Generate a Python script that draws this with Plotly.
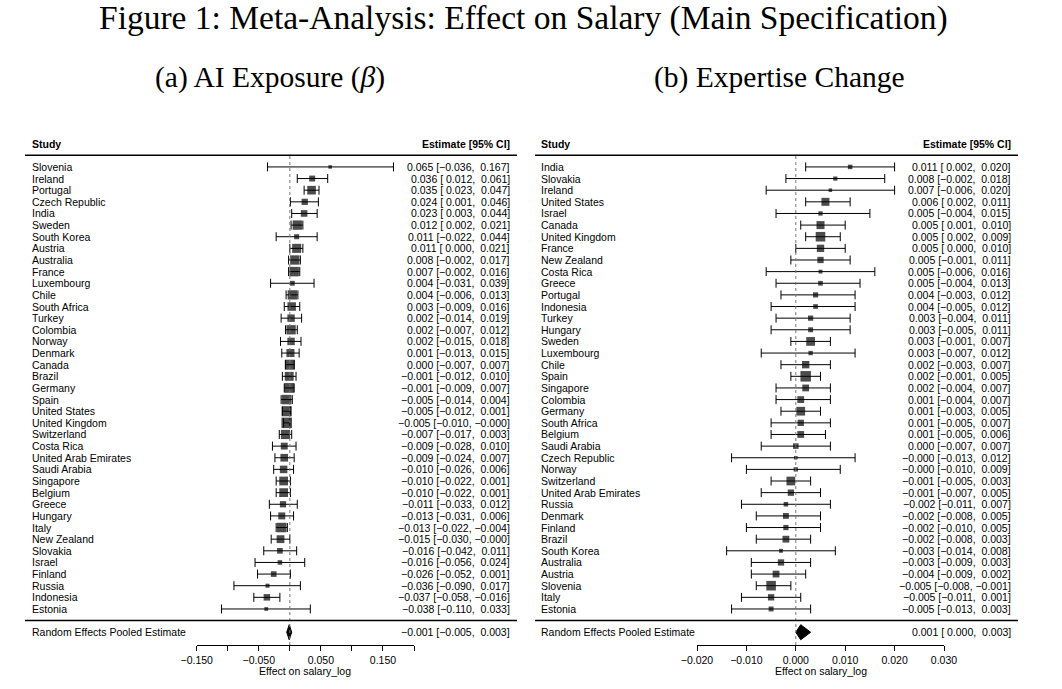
import plotly.graph_objects as go

# ---------------- data: (a) AI Exposure (beta) ----------------
a_study = ["Slovenia", "Ireland", "Portugal", "Czech Republic", "India", "Sweden",
           "South Korea", "Austria", "Australia", "France", "Luxembourg", "Chile",
           "South Africa", "Turkey", "Colombia", "Norway", "Denmark", "Canada",
           "Brazil", "Germany", "Spain", "United States", "United Kingdom",
           "Switzerland", "Costa Rica", "United Arab Emirates", "Saudi Arabia",
           "Singapore", "Belgium", "Greece", "Hungary", "Italy", "New Zealand",
           "Slovakia", "Israel", "Finland", "Russia", "Indonesia", "Estonia"]
a_est = [0.065, 0.036, 0.035, 0.024, 0.023, 0.012, 0.011, 0.011, 0.008, 0.007,
         0.004, 0.004, 0.003, 0.002, 0.002, 0.002, 0.001, 0.000, -0.001, -0.001,
         -0.005, -0.005, -0.005, -0.007, -0.009, -0.009, -0.010, -0.010, -0.010,
         -0.011, -0.013, -0.013, -0.015, -0.016, -0.016, -0.026, -0.036, -0.037,
         -0.038]
a_lo = [-0.036, 0.012, 0.023, 0.001, 0.003, 0.002, -0.022, 0.000, -0.002, -0.002,
        -0.031, -0.006, -0.009, -0.014, -0.007, -0.015, -0.013, -0.007, -0.012,
        -0.009, -0.014, -0.012, -0.010, -0.017, -0.028, -0.024, -0.026, -0.022,
        -0.022, -0.033, -0.031, -0.022, -0.030, -0.042, -0.056, -0.052, -0.090,
        -0.058, -0.110]
a_hi = [0.167, 0.061, 0.047, 0.046, 0.044, 0.021, 0.044, 0.021, 0.017, 0.016,
        0.039, 0.013, 0.016, 0.019, 0.012, 0.018, 0.015, 0.007, 0.010, 0.007,
        0.004, 0.001, -0.000, 0.003, 0.010, 0.007, 0.006, 0.001, 0.001, 0.012,
        0.006, -0.004, -0.000, 0.011, 0.024, 0.001, 0.017, -0.016, 0.033]
a_pooled = (-0.001, -0.005, 0.003)
a_ticks = [-0.15, -0.10, -0.05, 0.0, 0.05, 0.10, 0.15, 0.20]
a_ticktext = ["−0.150", "", "−0.050", "", "0.050", "", "0.150", ""]

# ---------------- data: (b) Expertise Change ----------------
b_study = ["India", "Slovakia", "Ireland", "United States", "Israel", "Canada",
           "United Kingdom", "France", "New Zealand", "Costa Rica", "Greece",
           "Portugal", "Indonesia", "Turkey", "Hungary", "Sweden", "Luxembourg",
           "Chile", "Spain", "Singapore", "Colombia", "Germany", "South Africa",
           "Belgium", "Saudi Arabia", "Czech Republic", "Norway", "Switzerland",
           "United Arab Emirates", "Russia", "Denmark", "Finland", "Brazil",
           "South Korea", "Australia", "Austria", "Slovenia", "Italy", "Estonia"]
b_est = [0.011, 0.008, 0.007, 0.006, 0.005, 0.005, 0.005, 0.005, 0.005, 0.005,
         0.005, 0.004, 0.004, 0.003, 0.003, 0.003, 0.003, 0.002, 0.002, 0.002,
         0.001, 0.001, 0.001, 0.001, 0.000, -0.000, -0.000, -0.001, -0.001,
         -0.002, -0.002, -0.002, -0.002, -0.003, -0.003, -0.004, -0.005, -0.005,
         -0.005]
b_lo = [0.002, -0.002, -0.006, 0.002, -0.004, 0.001, 0.002, 0.000, -0.001, -0.006,
        -0.004, -0.003, -0.005, -0.004, -0.005, -0.001, -0.007, -0.003, -0.001,
        -0.004, -0.004, -0.003, -0.005, -0.005, -0.007, -0.013, -0.010, -0.005,
        -0.007, -0.011, -0.008, -0.010, -0.008, -0.014, -0.009, -0.009, -0.008,
        -0.011, -0.013]
b_hi = [0.020, 0.018, 0.020, 0.011, 0.015, 0.010, 0.009, 0.010, 0.011, 0.016,
        0.013, 0.012, 0.012, 0.011, 0.011, 0.007, 0.012, 0.007, 0.005, 0.007,
        0.007, 0.005, 0.007, 0.006, 0.007, 0.012, 0.009, 0.003, 0.005, 0.007,
        0.005, 0.005, 0.003, 0.008, 0.003, 0.002, -0.001, 0.001, 0.003]
b_pooled = (0.001, 0.000, 0.003)
b_ticks = [-0.02, -0.01, 0.0, 0.01, 0.02, 0.03]
b_ticktext = ["−0.020", "−0.010", "0.000", "0.010", "0.020", "0.030"]

W, H = 1062, 689
SANS = "Liberation Sans, Arial, sans-serif"
SERIF = "Liberation Serif, Times New Roman, serif"
FS = 10.5
k = len(a_study)
y_rows = [k - i for i in range(k)]      # metafor style: first study on top
y_min, y_max = -5.88, 53.35
axis_y = -2.1
axis_pos = (axis_y - y_min) / (y_max - y_min)


def num(v):
    s = f"{v:.3f}".replace("-", "−")
    return s if s.startswith("−") else "\u00a0" + s


def ci_text(e, l, h):
    return f"{e:.3f}".replace("-", "−") + " [" + num(l) + "," + "\u00a0" + num(h) + "]"


def point_sizes(est, lo, hi):
    # random-effects weights (DerSimonian-Laird), scaled like metafor (0.5 .. 1.5)
    se = [(h - l) / 3.92 for l, h in zip(lo, hi)]
    w = [1 / s ** 2 for s in se]
    sw = sum(w)
    ybar = sum(wi * yi for wi, yi in zip(w, est)) / sw
    q = sum(wi * (yi - ybar) ** 2 for wi, yi in zip(w, est))
    c = sw - sum(wi ** 2 for wi in w) / sw
    tau2 = max(0.0, (q - (len(est) - 1)) / c)
    wr = [1 / (s ** 2 + tau2) for s in se]
    mn, mx = min(wr), max(wr)
    return [(0.5 + (x - mn) / (mx - mn)) * 7 for x in wr]


def label(x, y, text, anchor, yref="y", size=FS, family=SANS):
    return dict(x=x, y=y, xref="paper", yref=yref, text=text, xanchor=anchor,
                yanchor="middle", showarrow=False,
                font=dict(family=family, size=size, color="black"))


fig = go.Figure()
annots = []
shapes = []

panels = [
    dict(study=a_study, est=a_est, lo=a_lo, hi=a_hi, pooled=a_pooled, xa="x",
         left=25, right=517, name_x=30, ci_x=512, dom=(196.7, 414.0),
         rng=(-0.15, 0.20), ticks=a_ticks, ticktext=a_ticktext),
    dict(study=b_study, est=b_est, lo=b_lo, hi=b_hi, pooled=b_pooled, xa="x2",
         left=535, right=1018, name_x=539, ci_x=1013, dom=(697.0, 944.0),
         rng=(-0.02, 0.03), ticks=b_ticks, ticktext=b_ticktext),
]

for p in panels:
    est, lo, hi = p["est"], p["lo"], p["hi"]
    fig.add_trace(go.Scatter(
        x=est, y=y_rows, mode="markers", xaxis=p["xa"], yaxis="y",
        marker=dict(symbol="square", color="black", size=point_sizes(est, lo, hi),
                    line=dict(width=0)),
        error_x=dict(type="data", symmetric=False,
                     array=[h - e for e, h in zip(est, hi)],
                     arrayminus=[e - l for e, l in zip(est, lo)],
                     color="black", thickness=1, width=4.5),
        showlegend=False, hoverinfo="skip"))

    pe, pl, ph = p["pooled"]
    fig.add_trace(go.Scatter(
        x=[pl, pe, ph, pe, pl], y=[-1, -1 + 0.65, -1, -1 - 0.65, -1],
        mode="lines", fill="toself", fillcolor="black",
        line=dict(color="black", width=1), xaxis=p["xa"], yaxis="y",
        showlegend=False, hoverinfo="skip"))

    # reference line at zero
    shapes.append(dict(type="line", xref=p["xa"], yref="y", x0=0, x1=0,
                       y0=axis_y, y1=k + 1,
                       line=dict(color="#777777", width=1, dash="dot")))
    # header and pooled separator lines
    for yy in (k + 1, 0):
        shapes.append(dict(type="line", xref="paper", yref="y",
                           x0=p["left"] / W, x1=p["right"] / W, y0=yy, y1=yy,
                           line=dict(color="black", width=1.5)))

    nx, cx = p["name_x"] / W, p["ci_x"] / W
    annots.append(label(nx, k + 2, "<b>Study</b>", "left"))
    annots.append(label(cx, k + 2, "<b>Estimate [95% CI]</b>", "right"))
    for yy, s, e, l, h in zip(y_rows, p["study"], est, lo, hi):
        annots.append(label(nx, yy, s, "left"))
        annots.append(label(cx, yy, ci_text(e, l, h), "right"))
    annots.append(label(nx, -1, "Random Effects Pooled Estimate", "left"))
    annots.append(label(cx, -1, ci_text(pe, pl, ph), "right"))
    annots.append(label((p["dom"][0] + p["dom"][1]) / 2 / W, 1 - 671 / H,
                        "Effect on salary_log", "center", yref="paper"))

# figure titles
annots.append(label(523 / W, 1 - 18 / H,
                    "Figure 1: Meta-Analysis: Effect on Salary (Main Specification)",
                    "center", yref="paper", size=33.5, family=SERIF))
annots.append(label(269.5 / W, 1 - 77 / H, "(a) AI Exposure (<i>β</i>)",
                    "center", yref="paper", size=29.5, family=SERIF))
annots.append(label(779.5 / W, 1 - 77 / H, "(b) Expertise Change",
                    "center", yref="paper", size=29.5, family=SERIF))


def xaxis_cfg(p):
    return dict(domain=[p["dom"][0] / W, p["dom"][1] / W], range=list(p["rng"]),
                anchor="free", position=axis_pos, showline=True, linecolor="black",
                linewidth=1, ticks="outside", ticklen=5, tickwidth=1,
                tickcolor="black", tickvals=p["ticks"], ticktext=p["ticktext"],
                tickfont=dict(family=SANS, size=FS, color="black"),
                showgrid=False, zeroline=False, fixedrange=True, automargin=False)


fig.update_layout(
    width=W, height=H, margin=dict(l=0, r=0, t=0, b=0, autoexpand=False),
    paper_bgcolor="white", plot_bgcolor="white",
    xaxis=xaxis_cfg(panels[0]), xaxis2=xaxis_cfg(panels[1]),
    yaxis=dict(domain=[0, 1], range=[y_min, y_max], visible=False,
               showgrid=False, zeroline=False, fixedrange=True, automargin=False),
    annotations=annots, shapes=shapes,
)

fig.write_html("out.html", config={"displayModeBar": False},
               post_script="document.body.style.margin='0';")
